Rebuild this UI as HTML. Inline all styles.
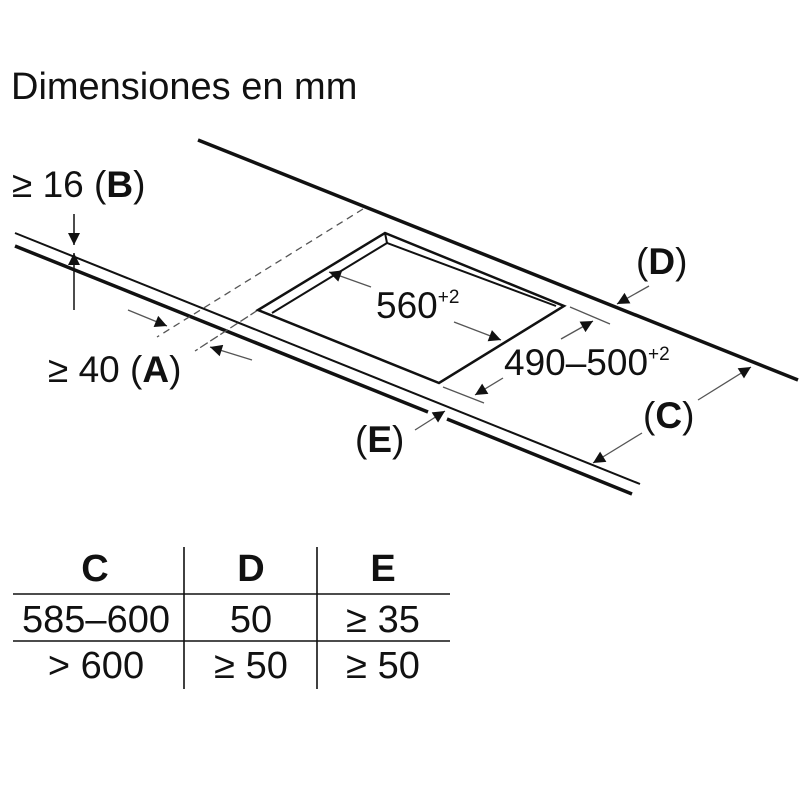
<!DOCTYPE html>
<html><head><meta charset="utf-8"><style>
html,body{margin:0;padding:0;background:#fff;}
svg{display:block;}
text{font-family:"Liberation Sans",Arial,sans-serif;fill:#111;}
</style></head><body>
<svg width="800" height="800" viewBox="0 0 800 800" xmlns="http://www.w3.org/2000/svg">
<defs>
<marker id="ah" viewBox="0 0 10 10" refX="10" refY="5" markerWidth="20" markerHeight="12" markerUnits="userSpaceOnUse" orient="auto">
<path d="M0,0 L10,5 L0,10 z" fill="#111"/>
</marker>
</defs>
<text x="11" y="99" font-size="38">Dimensiones en mm</text>
<line x1="198" y1="140" x2="798" y2="380" stroke="#111" stroke-width="3.5"/>
<line x1="15" y1="233" x2="640" y2="484" stroke="#111" stroke-width="2"/>
<polyline points="15,246 428,412" fill="none" stroke="#111" stroke-width="3.5"/>
<polyline points="447,419 632,494" fill="none" stroke="#111" stroke-width="3.5"/>
<line x1="363" y1="209" x2="157" y2="337" stroke="#555" stroke-width="1.3" stroke-dasharray="7,5"/>
<line x1="258" y1="310" x2="195" y2="351" stroke="#555" stroke-width="1.3" stroke-dasharray="9,3"/>
<polygon points="385,233 564,306 439,383 258,310" fill="none" stroke="#111" stroke-width="2.5"/>
<polyline points="272,313 387,243 556,306" fill="none" stroke="#111" stroke-width="2"/>
<line x1="385" y1="233" x2="387" y2="243" stroke="#111" stroke-width="2"/>
<line x1="74" y1="214" x2="74" y2="245" stroke="#111" stroke-width="1.5" marker-end="url(#ah)"/>
<line x1="74" y1="310" x2="74" y2="253" stroke="#111" stroke-width="1.5" marker-end="url(#ah)"/>
<line x1="128" y1="310" x2="167" y2="326" stroke="#555" stroke-width="1.3" marker-end="url(#ah)"/>
<line x1="252" y1="360" x2="210" y2="347" stroke="#555" stroke-width="1.3" marker-end="url(#ah)"/>
<line x1="371" y1="287" x2="329" y2="272" stroke="#555" stroke-width="1.3" marker-end="url(#ah)"/>
<line x1="454" y1="322" x2="501" y2="340" stroke="#555" stroke-width="1.3" marker-end="url(#ah)"/>
<line x1="570" y1="307" x2="610" y2="324" stroke="#555" stroke-width="1.3"/>
<line x1="443" y1="387" x2="484" y2="403" stroke="#555" stroke-width="1.3"/>
<line x1="561" y1="339" x2="593" y2="321" stroke="#555" stroke-width="1.3" marker-end="url(#ah)"/>
<line x1="503" y1="378" x2="475" y2="395" stroke="#555" stroke-width="1.3" marker-end="url(#ah)"/>
<line x1="649" y1="286" x2="617" y2="304" stroke="#555" stroke-width="1.3" marker-end="url(#ah)"/>
<line x1="698" y1="400" x2="751" y2="367" stroke="#555" stroke-width="1.3" marker-end="url(#ah)"/>
<line x1="642" y1="433" x2="593" y2="463" stroke="#555" stroke-width="1.3" marker-end="url(#ah)"/>
<line x1="415" y1="430" x2="445" y2="411" stroke="#555" stroke-width="1.3" marker-end="url(#ah)"/>
<text x="12" y="197" font-size="37">≥ 16 (<tspan font-weight="bold">B</tspan>)</text>
<text x="48" y="382" font-size="37">≥ 40 (<tspan font-weight="bold">A</tspan>)</text>
<text x="376" y="318" font-size="37">560<tspan font-size="19" dy="-15">+2</tspan></text>
<text x="504" y="375" font-size="37">490–500<tspan font-size="19" dy="-15">+2</tspan></text>
<text x="636" y="274" font-size="37">(<tspan font-weight="bold">D</tspan>)</text>
<text x="643" y="428" font-size="37">(<tspan font-weight="bold">C</tspan>)</text>
<text x="355" y="452" font-size="37">(<tspan font-weight="bold">E</tspan>)</text>
<line x1="184" y1="547" x2="184" y2="689" stroke="#111" stroke-width="1.6"/>
<line x1="317" y1="547" x2="317" y2="689" stroke="#111" stroke-width="1.6"/>
<line x1="13" y1="594" x2="450" y2="594" stroke="#111" stroke-width="1.6"/>
<line x1="13" y1="641" x2="450" y2="641" stroke="#111" stroke-width="1.6"/>
<g font-size="38" text-anchor="middle">
<text x="95" y="581" font-weight="bold">C</text>
<text x="251" y="581" font-weight="bold">D</text>
<text x="383" y="581" font-weight="bold">E</text>
<text x="96" y="632">585–600</text>
<text x="251" y="632">50</text>
<text x="383" y="632">≥ 35</text>
<text x="96" y="678">&gt; 600</text>
<text x="251" y="678">≥ 50</text>
<text x="383" y="678">≥ 50</text>
</g>
</svg>
</body></html>
